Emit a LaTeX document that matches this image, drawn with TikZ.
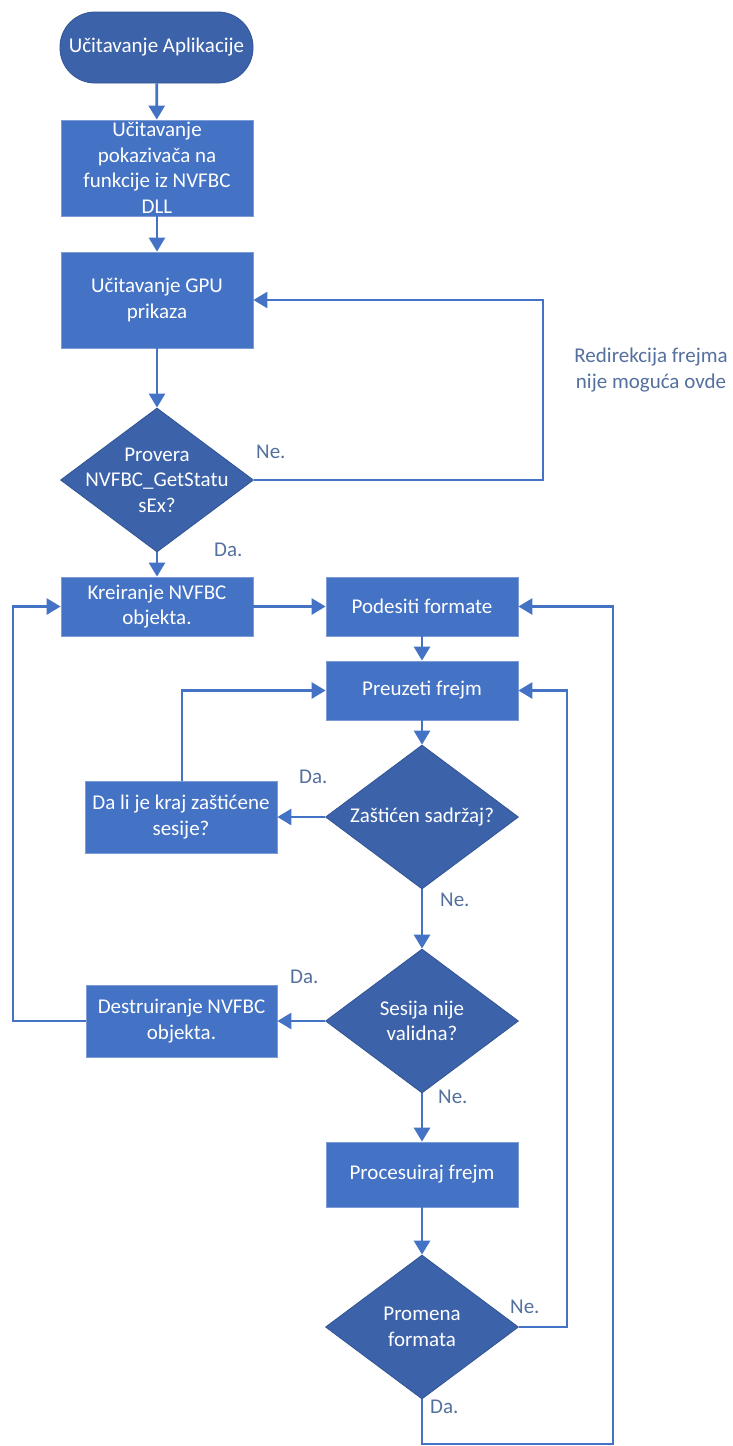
\documentclass[tikz,border=0pt]{standalone}
\usepackage{fontspec}
\setmainfont{Carlito}
\usetikzlibrary{shapes.geometric,arrows.meta}
\definecolor{boxfill}{RGB}{68,114,196}
\definecolor{boxedge}{RGB}{125,155,212}
\definecolor{diafill}{RGB}{60,98,170}
\definecolor{diaedge}{RGB}{50,84,148}
\definecolor{linec}{RGB}{68,114,196}
\definecolor{labc}{RGB}{84,112,158}
\begin{document}
\begin{tikzpicture}[x=1pt,y=-1pt,
  font=\fontsize{21}{25.5}\selectfont,
  pbox/.style={rectangle,fill=boxfill,draw=boxedge,line width=0.8pt,text=white,align=center,inner sep=2pt},
  dia/.style={diamond,fill=diafill,draw=diaedge,line width=0.8pt,inner sep=0pt,minimum width=193pt,minimum height=144pt},
  dtext/.style={text=white,align=center,font=\fontsize{21}{25.5}\selectfont},
  term/.style={rectangle,rounded corners=35pt,fill=diafill,draw=diaedge,line width=0.8pt,text=white,minimum width=193pt,minimum height=71pt},
  conn/.style={draw=linec,line width=2.8pt,-{Triangle[length=14pt,width=16pt]}},
  lab/.style={text=labc,inner sep=0pt}
]
\useasboundingbox (0,0) rectangle (732,1446);
\fill[white] (0,0) rectangle (732,1446);

% nodes
\node[term] (t) at (156.5,47.5) {Učitavanje Aplikacije};
\node[pbox,minimum width=192pt,minimum height=96pt] (b2) at (157,168) {Učitavanje\\pokazivača na\\funkcije iz NVFBC\\DLL};
\node[pbox,minimum width=192pt,minimum height=96pt] (b3) at (157,300) {Učitavanje GPU\\prikaza};
\node[dia,label={[dtext]center:{Provera\\NVFBC\_GetStatu\\sEx?}}] (d1) at (157,480) {};
\node[pbox,minimum width=192pt,minimum height=59pt] (kre) at (157,606.5) {Kreiranje NVFBC\\objekta.};
\node[pbox,minimum width=192pt,minimum height=59pt] (pod) at (422,606.5) {Podesiti formate};
\node[pbox,minimum width=192pt,minimum height=59pt] (pre) at (422,690.5) {Preuzeti frejm};
\node[dia,label={[dtext]center:{Zaštićen sadržaj?}}] (d2) at (422,817) {};
\node[pbox,minimum width=192pt,minimum height=72pt] (dali) at (181,817) {Da li je kraj zaštićene\\sesije?};
\node[dia,label={[dtext]center:{Sesija nije\\validna?}}] (d3) at (422,1021) {};
\node[pbox,minimum width=191pt,minimum height=72pt] (des) at (181.5,1021) {Destruiranje NVFBC\\objekta.};
\node[pbox,minimum width=192pt,minimum height=65pt] (proc) at (422,1174.5) {Procesuiraj frejm};
\node[dia,label={[dtext]center:{Promena\\formata}}] (d4) at (422,1327) {};

\coordinate (c1a) at (543,480);
\coordinate (c1b) at (543,300);
\coordinate (c2) at (182,690.5);
\coordinate (c3a) at (13,1021);
\coordinate (c3b) at (13,606.5);
\coordinate (c4a) at (567,1327);
\coordinate (c4b) at (567,690.5);
\coordinate (c5a) at (422,1444);
\coordinate (c5b) at (613,1444);
\coordinate (c5c) at (613,606.5);

% connectors
\draw[conn] (t) -- (b2);
\draw[conn] (b2) -- (b3);
\draw[conn] (b3) -- (d1);
\draw[conn] (d1.east) -- (c1a) -- (c1b) -- (b3.east);
\draw[conn] (d1.south) -- (kre.north);
\draw[conn] (kre) -- (pod);
\draw[conn] (pod) -- (pre);
\draw[conn] (pre) -- (d2);
\draw[conn] (d2.west) -- (dali.east);
\draw[conn] (dali.north -| c2) -- (c2) -- (pre.west);
\draw[conn] (d2.south) -- (d3.north);
\draw[conn] (d3.west) -- (des.east);
\draw[conn] (des.west) -- (c3a) -- (c3b) -- (kre.west);
\draw[conn] (d3.south) -- (proc.north);
\draw[conn] (proc) -- (d4);
\draw[conn] (d4.east) -- (c4a) -- (c4b) -- (pre.east);
\draw[conn] (d4.south) -- (c5a) -- (c5b) -- (c5c) -- (pod.east);

% labels
\node[lab,anchor=west] (l1) at (256,452) {Ne.};
\node[lab,anchor=west] (l2) at (214,550) {Da.};
\node[lab,align=center] (l3) at (651,370) {Redirekcija frejma\\nije moguća ovde};
\node[lab,anchor=west] (l4) at (299,777) {Da.};
\node[lab,anchor=west] (l5) at (440,900) {Ne.};
\node[lab,anchor=west] (l6) at (290,977) {Da.};
\node[lab,anchor=west] (l7) at (438,1097) {Ne.};
\node[lab,anchor=west] (l8) at (510,1307) {Ne.};
\node[lab,anchor=west] (l9) at (430,1407) {Da.};
\end{tikzpicture}
\end{document}
